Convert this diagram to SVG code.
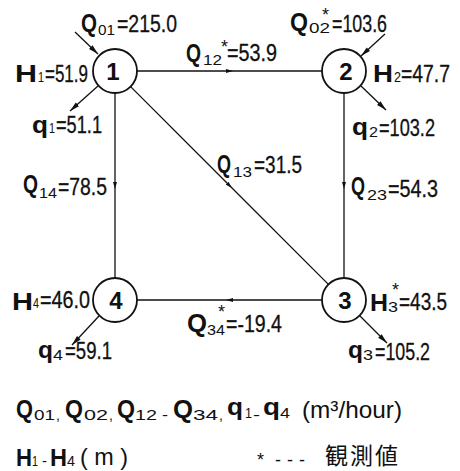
<svg xmlns="http://www.w3.org/2000/svg" width="460" height="471" viewBox="0 0 460 471">
<style>
text{font-family:"Liberation Sans",Arial,sans-serif;fill:#111}
.B{font-weight:bold;font-size:25px}
.q{font-weight:bold;font-size:24px}
.s{font-size:14px}
.v{font-size:23px;stroke:#111;stroke-width:0.3}
.st{font-size:18px}
.num{font-size:24px;font-weight:bold;text-anchor:middle}
.lg{font-size:24px}
.cjk{font-family:"Noto Sans CJK JP","Noto Sans CJK SC",sans-serif;font-size:23px}
circle{fill:#fff;stroke:#111;stroke-width:1.8}
.e{stroke:#111;stroke-width:1.3;fill:none}
</style>
<defs>
<marker id="ah" markerUnits="userSpaceOnUse" markerWidth="10" markerHeight="6" refX="10" refY="3" orient="auto"><path d="M0,0.5 L10,3 L0,5.5 z" fill="#111"/></marker>
<marker id="mid" markerUnits="userSpaceOnUse" markerWidth="7" markerHeight="5" refX="3.5" refY="2.5" orient="auto"><path d="M0,0.5 L7,2.5 L0,4.5 z" fill="#111"/></marker>
</defs>
<g id="connectors">
<path class="e" d="M137,71 L229.5,71 L322,71" marker-mid="url(#mid)"/>
<path class="e" d="M115,93 L115,185.5 L115,278" marker-mid="url(#mid)"/>
<path class="e" d="M344,93 L344,185.5 L344,278" marker-mid="url(#mid)"/>
<path class="e" d="M130.6,86.6 L229.5,185.5 L328.4,284.4" marker-mid="url(#mid)"/>
<path class="e" d="M322,300 L229.5,300 L137,300" marker-mid="url(#mid)"/>
<path class="e" d="M75,32 L98,54" marker-end="url(#ah)"/>
<path class="e" d="M98,86 L70,111" marker-end="url(#ah)"/>
<path class="e" d="M385,34 L361,56" marker-end="url(#ah)"/>
<path class="e" d="M361,86 L386,110" marker-end="url(#ah)"/>
<path class="e" d="M99,316 L72,345" marker-end="url(#ah)"/>
<path class="e" d="M360,316 L387,343" marker-end="url(#ah)"/>
</g>
<g id="node1"><circle cx="115" cy="71" r="22"/><text class="num" x="113" y="80">1</text></g>
<g id="node2"><circle cx="344" cy="71" r="22"/><text class="num" x="346" y="80">2</text></g>
<g id="node3"><circle cx="344" cy="300" r="22"/><text class="num" x="345" y="309">3</text></g>
<g id="node4"><circle cx="115" cy="300" r="22"/><text class="num" x="116" y="309">4</text></g>
<g id="labels">
<g id="lQ01"><text class="B" x="81" y="32" textLength="16" lengthAdjust="spacingAndGlyphs">Q</text><text class="s" x="98" y="35" textLength="17" lengthAdjust="spacingAndGlyphs">01</text><text class="v" x="117" y="32" textLength="60" lengthAdjust="spacingAndGlyphs">=215.0</text></g>
<g id="lQ02"><text class="B" x="290" y="31" textLength="18" lengthAdjust="spacingAndGlyphs">Q</text><text class="s" x="309" y="33" textLength="21" lengthAdjust="spacingAndGlyphs">02</text><text class="st" x="322" y="21">*</text><text class="v" x="332" y="32" textLength="55" lengthAdjust="spacingAndGlyphs">=103.6</text></g>
<g id="lQ12"><text class="B" x="186" y="62" textLength="15" lengthAdjust="spacingAndGlyphs">Q</text><text class="s" x="203" y="65" textLength="19" lengthAdjust="spacingAndGlyphs">12</text><text class="st" x="221" y="53">*</text><text class="v" x="227" y="61" textLength="50" lengthAdjust="spacingAndGlyphs">=53.9</text></g>
<g id="lH1"><text class="q" x="15" y="82" textLength="22" lengthAdjust="spacingAndGlyphs">H</text><text class="s" x="38" y="82" textLength="6" lengthAdjust="spacingAndGlyphs">1</text><text class="v" x="45" y="82" textLength="43" lengthAdjust="spacingAndGlyphs">=51.9</text></g>
<g id="lq1"><text class="q" x="32" y="133" textLength="16" lengthAdjust="spacingAndGlyphs">q</text><text class="s" x="49" y="133" textLength="6" lengthAdjust="spacingAndGlyphs">1</text><text class="v" x="56" y="133" textLength="46" lengthAdjust="spacingAndGlyphs">=51.1</text></g>
<g id="lH2"><text class="q" x="373" y="82" textLength="20" lengthAdjust="spacingAndGlyphs">H</text><text class="s" x="394" y="82" textLength="7" lengthAdjust="spacingAndGlyphs">2</text><text class="v" x="401" y="82" textLength="49" lengthAdjust="spacingAndGlyphs">=47.7</text></g>
<g id="lq2"><text class="q" x="352" y="135" textLength="16" lengthAdjust="spacingAndGlyphs">q</text><text class="s" x="369" y="137" textLength="9" lengthAdjust="spacingAndGlyphs">2</text><text class="v" x="379" y="136" textLength="56" lengthAdjust="spacingAndGlyphs">=103.2</text></g>
<g id="lQ14"><text class="B" x="23" y="193" textLength="15" lengthAdjust="spacingAndGlyphs">Q</text><text class="s" x="39" y="198" textLength="18" lengthAdjust="spacingAndGlyphs">14</text><text class="v" x="58" y="195" textLength="49" lengthAdjust="spacingAndGlyphs">=78.5</text></g>
<g id="lQ13"><text class="B" x="217" y="173" textLength="14" lengthAdjust="spacingAndGlyphs">Q</text><text class="s" x="233" y="177" textLength="19" lengthAdjust="spacingAndGlyphs">13</text><text class="v" x="254" y="173" textLength="48" lengthAdjust="spacingAndGlyphs">=31.5</text></g>
<g id="lQ23"><text class="B" x="351" y="195" textLength="14" lengthAdjust="spacingAndGlyphs">Q</text><text class="s" x="367" y="200" textLength="20" lengthAdjust="spacingAndGlyphs">23</text><text class="v" x="388" y="197" textLength="50" lengthAdjust="spacingAndGlyphs">=54.3</text></g>
<g id="lH4"><text class="q" x="12" y="310" textLength="21" lengthAdjust="spacingAndGlyphs">H</text><text class="s" x="33" y="308" textLength="6" lengthAdjust="spacingAndGlyphs">4</text><text class="v" x="40" y="308" textLength="50" lengthAdjust="spacingAndGlyphs">=46.0</text></g>
<g id="lH3"><text class="q" x="370" y="311" textLength="18" lengthAdjust="spacingAndGlyphs">H</text><text class="s" x="388" y="312" textLength="10" lengthAdjust="spacingAndGlyphs">3</text><text class="st" x="392" y="296">*</text><text class="v" x="399" y="310" textLength="48" lengthAdjust="spacingAndGlyphs">=43.5</text></g>
<g id="lQ34"><text class="B" x="187" y="332" textLength="20" lengthAdjust="spacingAndGlyphs">Q</text><text class="s" x="207" y="335" textLength="18" lengthAdjust="spacingAndGlyphs">34</text><text class="st" x="218" y="318">*</text><text class="v" x="226" y="332" textLength="56" lengthAdjust="spacingAndGlyphs">=-19.4</text></g>
<g id="lq4"><text class="q" x="38" y="358" textLength="15" lengthAdjust="spacingAndGlyphs">q</text><text class="s" x="53" y="360" textLength="10" lengthAdjust="spacingAndGlyphs">4</text><text class="v" x="65" y="359" textLength="47" lengthAdjust="spacingAndGlyphs">=59.1</text></g>
<g id="lq3"><text class="q" x="348" y="358" textLength="15" lengthAdjust="spacingAndGlyphs">q</text><text class="s" x="363" y="360" textLength="10" lengthAdjust="spacingAndGlyphs">3</text><text class="v" x="375" y="360" textLength="55" lengthAdjust="spacingAndGlyphs">=105.2</text></g>
</g>
<g id="legend">
<text class="B" x="16" y="418" textLength="17" lengthAdjust="spacingAndGlyphs">Q</text><text class="s" x="34" y="420" textLength="21" lengthAdjust="spacingAndGlyphs">01</text><text class="s" x="56" y="420">,</text>
<text class="B" x="65" y="418" textLength="18" lengthAdjust="spacingAndGlyphs">Q</text><text class="s" x="84" y="420" textLength="24" lengthAdjust="spacingAndGlyphs">02</text><text class="s" x="109" y="420">,</text>
<text class="B" x="117" y="418" textLength="18" lengthAdjust="spacingAndGlyphs">Q</text><text class="s" x="135" y="420" textLength="22" lengthAdjust="spacingAndGlyphs">12</text><text class="s" x="162" y="420" textLength="6" lengthAdjust="spacingAndGlyphs">-</text>
<text class="B" x="173" y="418" textLength="20" lengthAdjust="spacingAndGlyphs">Q</text><text class="s" x="193" y="420" textLength="25" lengthAdjust="spacingAndGlyphs">34</text><text class="s" x="219" y="420">,</text>
<text class="q" x="227" y="415" textLength="16" lengthAdjust="spacingAndGlyphs">q</text><text class="s" x="245" y="418" textLength="7" lengthAdjust="spacingAndGlyphs">1</text><text class="s" x="253" y="420" textLength="7" lengthAdjust="spacingAndGlyphs">-</text>
<text class="q" x="263" y="415" textLength="17" lengthAdjust="spacingAndGlyphs">q</text><text class="s" x="280" y="418" textLength="10" lengthAdjust="spacingAndGlyphs">4</text>
<text class="lg" x="302" y="418" textLength="100" lengthAdjust="spacingAndGlyphs">(m³/hour)</text>
<text class="q" x="16" y="466" textLength="16" lengthAdjust="spacingAndGlyphs">H</text><text class="s" x="32" y="466" textLength="6" lengthAdjust="spacingAndGlyphs">1</text><text class="s" x="42" y="466" textLength="5" lengthAdjust="spacingAndGlyphs">-</text>
<text class="q" x="50" y="466" textLength="17" lengthAdjust="spacingAndGlyphs">H</text><text class="s" x="67" y="466" textLength="8" lengthAdjust="spacingAndGlyphs">4</text>
<text class="lg" x="80" y="465" textLength="48" lengthAdjust="spacingAndGlyphs">( m )</text>
<text class="st" x="257" y="466">*</text>
<text class="st" x="275" y="466" textLength="30" lengthAdjust="spacing">---</text>
<text class="cjk" x="325" y="464" textLength="73" lengthAdjust="spacing">観測値</text>
</g>
</svg>
